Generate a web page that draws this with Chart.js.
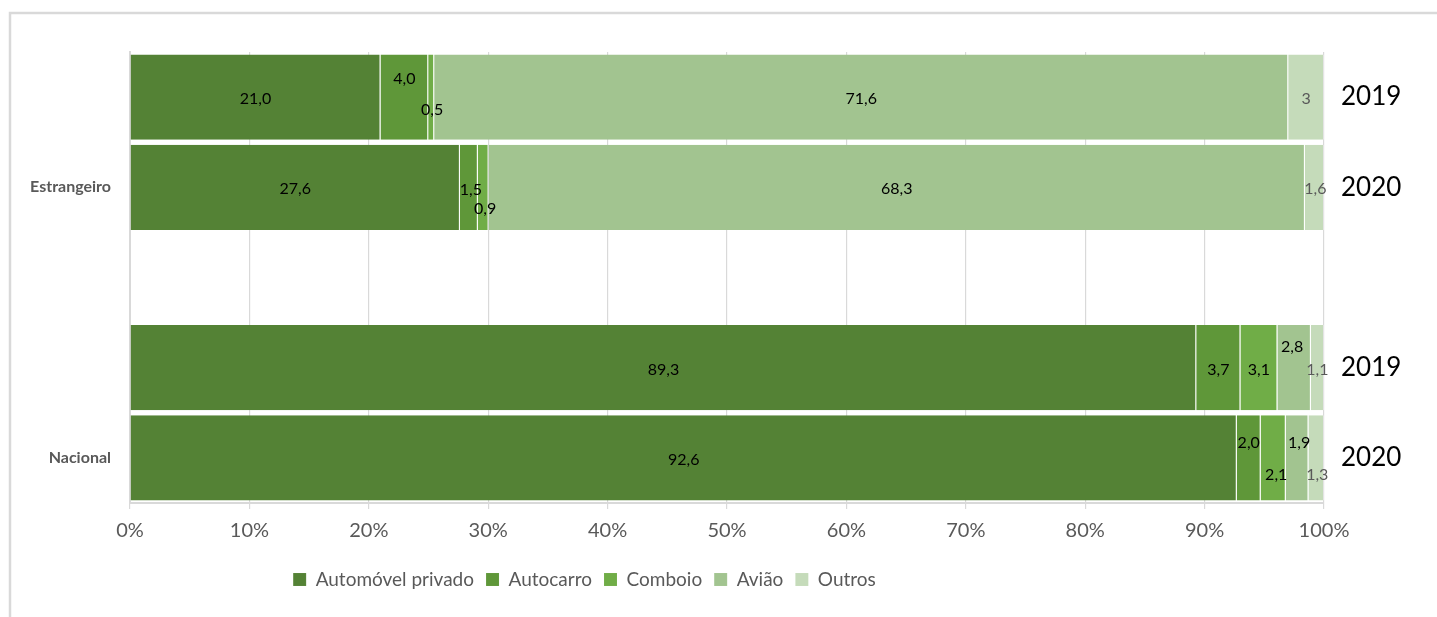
<!DOCTYPE html>
<html>
<head>
<meta charset="utf-8">
<script src="https://cdn.jsdelivr.net/npm/chart.js@4"></script>
<style>
  html, body { margin: 0; padding: 0; background: #fff; }
  .wrap { position: relative; width: 1437px; height: 617px; }
</style>
</head>
<body>
<div class="wrap">
  <canvas id="modos" width="1437" height="617"></canvas>
</div>
<script>
  // categorias (slot 2 fica vazio para separar os grupos)
  var groupLabels = ['', 'Estrangeiro', '', '', 'Nacional'];
  var yearLabels = ['2019', '2020', '', '2019', '2020'];
  var seriesNames = ['Automóvel privado', 'Autocarro', 'Comboio', 'Avião', 'Outros'];
  var seriesColors = ['#548235', '#5f9739', '#70ad47', '#a2c490', '#c5dbba'];

  var automovel = [21.0, 27.6, null, 89.3, 92.6];
  var autocarro = [4.0, 1.5, null, 3.7, 2.0];
  var comboio = [0.5, 0.9, null, 3.1, 2.1];
  var aviao = [71.6, 68.3, null, 2.8, 1.9];
  var outros = [3, 1.6, null, 1.1, 1.3];

  var xTicks = [0, 10, 20, 30, 40, 50, 60, 70, 80, 90, 100];

  var allSeries = [automovel, autocarro, comboio, aviao, outros];

  // deslocamentos dos rotulos (como no Excel, para nao se sobreporem)
  var labelNudge = {
    1: { 0: [0, -20], 1: [2, 1], 4: [0, -17] },
    2: { 0: [1, 11], 1: [2, 20], 4: [3, 15] },
    3: { 3: [-2, -23], 4: [2, -17] },
    4: { 1: [1, 0], 4: [1, 15] }
  };

  // empilhado a 100%
  var totals = groupLabels.map((_, i) => allSeries.reduce((s, arr) => s + (arr[i] || 0), 0));
  var datasets = allSeries.map((arr, k) => ({
    label: seriesNames[k],
    data: arr.map((v, i) => v == null ? null : v / totals[i] * 100),
    backgroundColor: seriesColors[k],
    borderColor: 'rgba(255,255,255,0.3)',
    borderWidth: { left: 0, right: 1, top: 0, bottom: 0 },
    borderSkipped: false,
    categoryPercentage: 1,
    barPercentage: 0.945
  }));

  function fmt(v, k) {
    if (k === 4) return String(v).replace('.', ',');
    return v.toFixed(1).replace('.', ',');
  }

  var frame = {
    id: 'frame',
    beforeDraw(chart) {
      var ctx = chart.ctx;
      ctx.save();
      ctx.strokeStyle = '#d9d9d9';
      ctx.lineWidth = 2.5;
      ctx.beginPath();
      ctx.moveTo(10, 617);
      ctx.lineTo(10, 13);
      ctx.lineTo(1437, 13);
      ctx.stroke();
      ctx.restore();
    }
  };

  var segLabels = {
    id: 'segLabels',
    afterDatasetsDraw(chart) {
      var ctx = chart.ctx;
      ctx.save();
      ctx.font = '16px Lato';
      ctx.textAlign = 'center';
      ctx.textBaseline = 'middle';
      chart.data.datasets.forEach((ds, k) => {
        var meta = chart.getDatasetMeta(k);
        meta.data.forEach((bar, i) => {
          var v = allSeries[k][i];
          if (v == null) return;
          var n = (labelNudge[k] && labelNudge[k][i]) || [0, 0];
          var cx = (bar.x + bar.base) / 2 + n[0];
          var cy = bar.y + 2 + n[1];
          ctx.fillStyle = k === 4 ? '#595959' : '#000';
          ctx.fillText(fmt(v, k), cx, cy);
        });
      });
      ctx.restore();
    }
  };

  var shiftLegend = {
    id: 'shiftLegend',
    afterLayout(chart) {
      var dx = -134, dy = 15;
      chart.legend.left += dx;
      chart.legend.right += dx;
      chart.legend.top += dy;
      chart.legend.bottom += dy;
    }
  };

  new Chart(document.getElementById('modos'), {
    type: 'bar',
    data: { labels: groupLabels, datasets: datasets },
    plugins: [frame, segLabels, shiftLegend],
    options: {
      indexAxis: 'y',
      responsive: false,
      animation: false,
      layout: { padding: { top: 52, bottom: 33, left: 0, right: 0 } },
      plugins: {
        tooltip: { enabled: false },
        legend: {
          position: 'bottom',
          labels: {
            font: { family: 'Lato', size: 19 },
            color: '#595959',
            boxWidth: 13,
            boxHeight: 13,
            padding: 12
          }
        }
      },
      scales: {
        x: {
          stacked: true,
          min: 0,
          max: 100,
          afterBuildTicks: (s) => { s.ticks = xTicks.map(v => ({ value: v })); },
          afterFit: (s) => { s.height = 40; },
          ticks: {
            callback: (v) => v + '%',
            font: { family: 'Lato', size: 20 },
            color: '#595959',
            padding: 10
          },
          grid: { color: '#d9d9d9', lineWidth: 1.2, tickLength: 6 },
          border: { color: '#d9d9d9', width: 2 }
        },
        y: {
          stacked: true,
          afterFit: (s) => { s.width = 130; },
          ticks: {
            font: { family: 'Lato', size: 16, weight: 'bold' },
            color: '#595959',
            padding: 11
          },
          grid: { display: false },
          border: { color: '#d9d9d9', width: 2 }
        },
        y2: {
          type: 'category',
          labels: yearLabels,
          position: 'right',
          offset: true,
          afterFit: (s) => { s.width = 113; },
          ticks: {
            font: { family: 'Lato', size: 26 },
            color: '#000',
            padding: 9
          },
          grid: { display: false },
          border: { display: false }
        }
      }
    }
  });
</script>
</body>
</html>
